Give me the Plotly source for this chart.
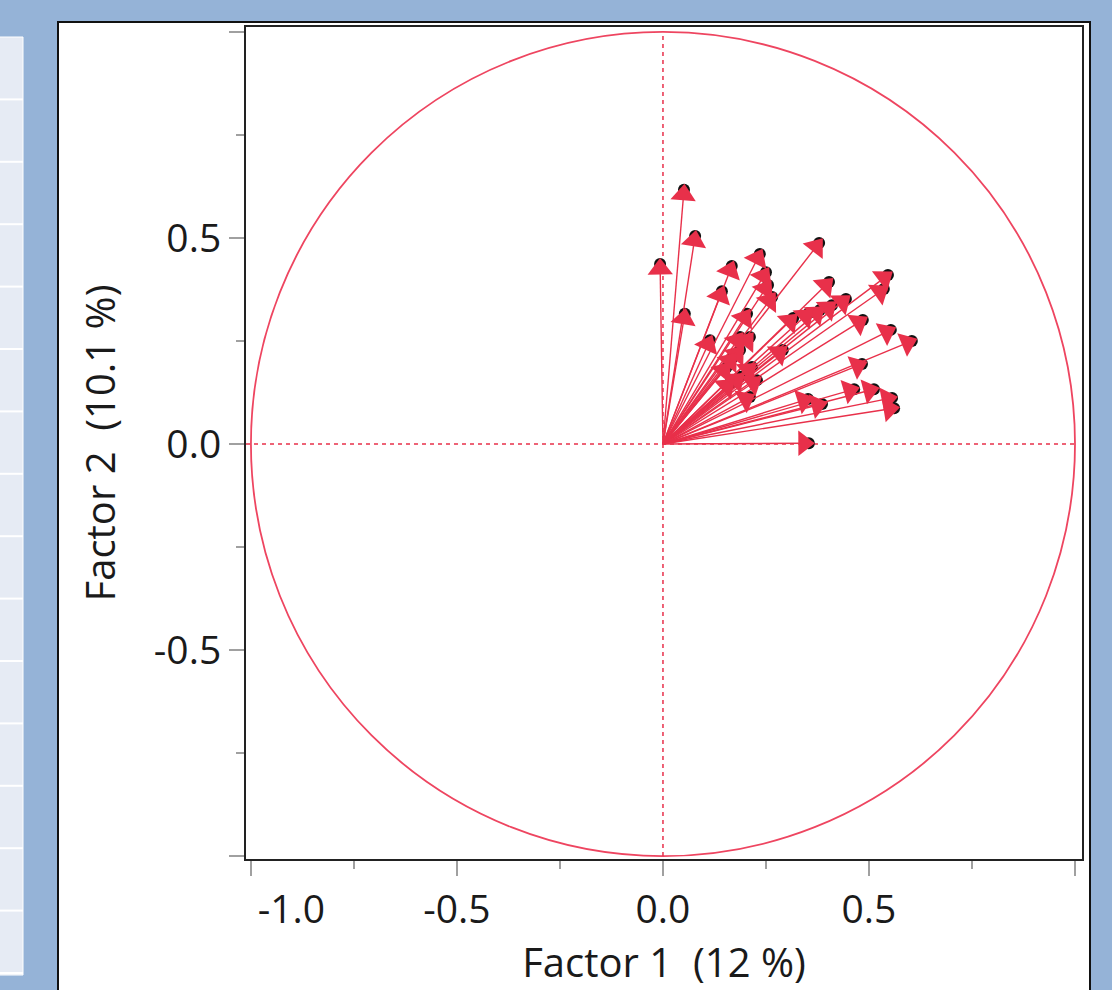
import plotly.graph_objects as go

# ---- data: factor loadings ----
factor1 = [0.051, 0.078, -0.007, 0.053, 0.167, 0.235, 0.379, 0.143, 0.250, 0.255,
           0.265, 0.403, 0.546, 0.536, 0.444, 0.410, 0.381, 0.354, 0.316, 0.485,
           0.553, 0.604, 0.483, 0.512, 0.464, 0.556, 0.561, 0.352, 0.386, 0.354,
           0.204, 0.114, 0.211, 0.187, 0.170, 0.216, 0.291, 0.187, 0.228, 0.163,
           0.211, 0.187, 0.155]
factor2 = [0.617, 0.505, 0.437, 0.316, 0.432, 0.461, 0.488, 0.371, 0.417, 0.386,
           0.357, 0.393, 0.410, 0.376, 0.352, 0.337, 0.325, 0.318, 0.306, 0.301,
           0.277, 0.250, 0.194, 0.133, 0.133, 0.112, 0.087, 0.109, 0.097, 0.002,
           0.316, 0.252, 0.260, 0.228, 0.211, 0.187, 0.228, 0.163, 0.155, 0.148,
           0.114, 0.260, 0.187]

x_title = "Factor 1  (12 %)"
y_title = "Factor 2  (10.1 %)"
major_ticks = [-1.0, -0.5, 0.0, 0.5, 1.0]
x_tick_text = ["\u00a0" * 8 + "-1.0", "-0.5", "0.0", "0.5", ""]
y_tick_text = ["", "-0.5", "0.0", "0.5", ""]
minor_ticks = [-0.75, -0.25, 0.25, 0.75]
circle_radius = 1.0
origin = 0.0

# ---- style ----
W, H = 1112, 990
L, R, T, B = 246, 30, 27, 131
PW, PH = W - L - R, H - T - B
ARROW = "#E8304A"
CIRCLE = "#EE4560"
BLUE = "#95B3D7"
FONT = "Open Sans"
HEAD = 22  # arrow head marker size (px)


def px(x):
    return (x - L) / PW


def py(y):
    return (H - B - y) / PH


# segments origin -> loading, separated by None
seg_x, seg_y, seg_size = [], [], []
for fx, fy in zip(factor1, factor2):
    seg_x += [origin, fx, None]
    seg_y += [origin, fy, None]
    seg_size += [0, HEAD, 0]

fig = go.Figure()

# black label points under the arrow heads
fig.add_trace(go.Scatter(
    x=factor1, y=factor2, mode="markers",
    marker=dict(color="#111111", size=12, opacity=1),
    hoverinfo="skip", showlegend=False,
))
# arrows
fig.add_trace(go.Scatter(
    x=seg_x, y=seg_y, mode="lines+markers",
    line=dict(color=ARROW, width=1.4),
    marker=dict(symbol="triangle-up", angleref="previous", size=seg_size,
                standoff=5, color=ARROW, opacity=1, line=dict(width=0)),
    connectgaps=False, hoverinfo="skip", showlegend=False,
))

shapes = []
# white report panel
shapes.append(dict(type="rect", xref="paper", yref="paper", layer="below",
                   x0=px(58), x1=px(1090), y0=py(1000), y1=py(22),
                   fillcolor="white", line=dict(color="#111111", width=2)))
# left table strip
shapes.append(dict(type="rect", xref="paper", yref="paper", layer="below",
                   x0=px(-5), x1=px(23), y0=py(975), y1=py(37),
                   fillcolor="#E6EBF4", line=dict(color="#FFFFFF", width=1)))
for k in range(1, 16):
    yy = 37 + 62.4 * k
    if yy < 975:
        shapes.append(dict(type="line", xref="paper", yref="paper", layer="below",
                           x0=px(-5), x1=px(23), y0=py(yy), y1=py(yy),
                           line=dict(color="#FFFFFF", width=2)))
# unit circle
shapes.append(dict(type="circle", xref="x", yref="y", layer="below",
                   x0=-circle_radius, x1=circle_radius,
                   y0=-circle_radius, y1=circle_radius,
                   line=dict(color=CIRCLE, width=1.8)))
# dashed axes through origin
shapes.append(dict(type="line", xref="x", yref="y", layer="below",
                   x0=-1.012, x1=circle_radius, y0=origin, y1=origin,
                   line=dict(color=ARROW, width=1.5, dash="4px,4px")))
shapes.append(dict(type="line", xref="x", yref="y", layer="below",
                   x0=origin, x1=origin, y0=-circle_radius, y1=circle_radius,
                   line=dict(color=ARROW, width=1.5, dash="4px,4px")))

axis_common = dict(
    showgrid=False, zeroline=False,
    showline=True, linecolor="#222222", linewidth=2, mirror=True,
    ticks="outside", ticklen=15, tickwidth=2, tickcolor="#A0A0A0",
    tickvals=major_ticks,
    tickfont=dict(family=FONT, size=39, color="#1A1A1A"),
    minor=dict(tickvals=minor_ticks, ticks="outside", ticklen=8, tickwidth=2,
               tickcolor="#A0A0A0", showgrid=False),
)

fig.update_layout(
    width=W, height=H,
    margin=dict(l=L, r=R, t=T, b=B, autoexpand=False),
    paper_bgcolor=BLUE, plot_bgcolor="white",
    showlegend=False,
    shapes=shapes,
    xaxis=dict(axis_common, range=[-1.012, 1.017], ticktext=x_tick_text,
               title=dict(text=x_title, font=dict(family=FONT, size=40, color="#1A1A1A"),
                          standoff=6)),
    yaxis=dict(axis_common, range=[-1.007, 1.012], ticktext=y_tick_text,
               title=dict(text=y_title, font=dict(family=FONT, size=40, color="#1A1A1A"),
                          standoff=26)),
)

fig.write_html(
    "out.html",
    config={"displayModeBar": False},
    post_script="document.body.style.margin='0';document.body.style.overflow='hidden';",
)
